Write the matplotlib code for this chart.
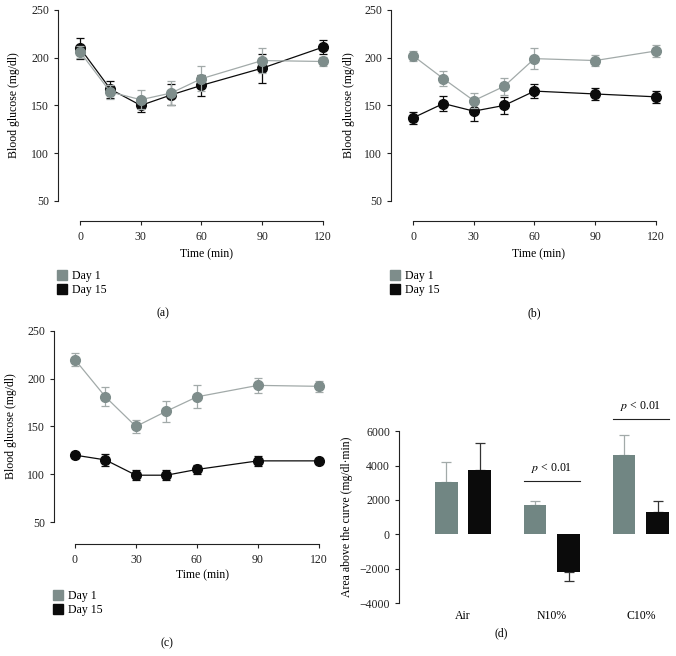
import numpy as np
import matplotlib.pyplot as plt
from matplotlib.lines import Line2D

plt.rcParams['font.family'] = ['Liberation Serif', 'DejaVu Serif']
plt.rcParams['mathtext.fontset'] = 'stix'
FS = 8.5
plt.rcParams['font.size'] = FS

# time points (min)
time = [0, 15, 30, 45, 60, 90, 120]

# (a) Air
a_day1 = [206, 164, 156, 163, 178, 197, 196]
a_day1_err = [6, 7, 10, 13, 13, 13, 5]
a_day15 = [210, 167, 150, 161, 171, 189, 211]
a_day15_err = [11, 9, 7, 11, 11, 15, 7]

# (b) N10%
b_day1 = [202, 178, 155, 170, 199, 197, 207]
b_day1_err = [5, 8, 8, 9, 11, 6, 6]
b_day15 = [137, 152, 144, 150, 165, 162, 159]
b_day15_err = [6, 8, 10, 9, 7, 6, 6]

# (c) C10%
c_day1 = [220, 181, 150, 166, 181, 193, 192]
c_day1_err = [7, 10, 7, 11, 12, 8, 6]
c_day15 = [120, 115, 99, 99, 105, 114, 114]
c_day15_err = [3, 6, 5, 5, 5, 5, 3]

# (d) area above the curve
groups = ['Air', 'N10%', 'C10%']
auc_day1 = [3050, 1680, 4600]
auc_day1_err = [1160, 270, 1200]
auc_day15 = [3770, -2220, 1330]
auc_day15_err = [1530, 520, 640]
sig_groups = [1, 2]
sig_line_y = [3110, 6740]
sig_text_y = [3850, 7490]

GRAY = '#7e8d8b'
GRAY_LINE = '#a2aaa9'
BLACK = '#0b0b0b'
BAR_GRAY = '#718683'

W, H = 676, 656
fig = plt.figure(figsize=(W / 100, H / 100), dpi=100)


def px_axes(left, top, right, bottom):
    return fig.add_axes([left / W, 1 - bottom / H, (right - left) / W, (bottom - top) / H])


def fx(px):
    return px / W


def fy(py):
    return 1 - py / H


def line_panel(box, xlim, ylim, d1, e1, d15, e15, ylab_x, xlab_y, leg_xy, cap, cap_xy):
    ax = px_axes(*box)
    ax.errorbar(time, d15, yerr=e15, color=BLACK, marker='o', ms=7, lw=0.9,
                elinewidth=0.9, capsize=2.8, capthick=0.9, zorder=3)
    ax.errorbar(time, d1, yerr=e1, color=GRAY_LINE, marker='o', ms=7, mfc=GRAY, mec=GRAY,
                lw=0.9, elinewidth=0.9, capsize=2.8, capthick=0.9, zorder=4)
    ax.set_xlim(*xlim)
    ax.set_ylim(*ylim)
    ax.set_xticks([0, 30, 60, 90, 120])
    ax.set_yticks([50, 100, 150, 200, 250])
    for s in ['top', 'right']:
        ax.spines[s].set_visible(False)
    ax.spines['left'].set_bounds(50, 250)
    ax.spines['bottom'].set_bounds(0, 120)
    for s in ['left', 'bottom']:
        ax.spines[s].set_linewidth(0.8)
        ax.spines[s].set_color('#222222')
    ax.tick_params(direction='out', length=3, width=0.8, colors='#222222', labelsize=FS)
    ax.tick_params(axis='x', pad=4)
    ax.set_ylabel('Blood glucose (mg/dl)', fontsize=FS)
    ax.yaxis.set_label_coords(fx(ylab_x), fy(105 + box[1] - 8), transform=fig.transFigure)
    ax.set_xlabel('Time (min)', fontsize=FS)
    ax.xaxis.set_label_coords(fx((box[0] + box[2]) / 2 + 12), fy(xlab_y), transform=fig.transFigure)
    handles = [Line2D([], [], marker='s', ls='none', color=GRAY, ms=6.5),
               Line2D([], [], marker='s', ls='none', color=BLACK, ms=6.5)]
    ax.legend(handles, ['Day 1', 'Day 15'], loc='upper left', bbox_to_anchor=(fx(leg_xy[0]), fy(leg_xy[1])),
              bbox_transform=fig.transFigure, frameon=False, handlelength=0.7, handletextpad=0.5,
              labelspacing=0.2, borderpad=0, borderaxespad=0, fontsize=FS)
    fig.text(fx(cap_xy[0]), fy(cap_xy[1]), cap, ha='center', va='center', fontsize=FS)
    return ax


line_panel((58, 8, 330, 221), (-10.9, 123.5), (29, 252), a_day1, a_day1_err, a_day15, a_day15_err,
           20, 248, (58, 270), '(a)', (163, 313))
line_panel((391, 8, 663, 221), (-10.9, 123.5), (29, 252), b_day1, b_day1_err, b_day15, b_day15_err,
           355, 248, (391, 270), '(b)', (534, 313))
line_panel((54, 329, 326, 544), (-10.3, 123.5), (27, 252), c_day1, c_day1_err, c_day15, c_day15_err,
           17, 569, (54, 590), '(c)', (167, 643))

# (d) bar chart
ax = px_axes(399, 397, 672, 603)
x = np.arange(len(groups))
width = 0.253
off = 0.188
ax.bar(x - off, auc_day1, width, color=BAR_GRAY, zorder=2)
ax.bar(x + off, auc_day15, width, color=BLACK, zorder=2)
e1 = [[e if v < 0 else 0 for v, e in zip(auc_day1, auc_day1_err)],
      [e if v >= 0 else 0 for v, e in zip(auc_day1, auc_day1_err)]]
e15 = [[e if v < 0 else 0 for v, e in zip(auc_day15, auc_day15_err)],
       [e if v >= 0 else 0 for v, e in zip(auc_day15, auc_day15_err)]]
ax.errorbar(x - off, auc_day1, yerr=e1, fmt='none', ecolor=GRAY_LINE, elinewidth=0.9, capsize=3.5, capthick=0.9, zorder=1)
ax.errorbar(x + off, auc_day15, yerr=e15, fmt='none', ecolor='#333333', elinewidth=0.9, capsize=3.5, capthick=0.9, zorder=1)
for g, ly, ty in zip(sig_groups, sig_line_y, sig_text_y):
    ax.plot([g - off - width / 2, g + off + width / 2], [ly, ly], color='#222222', lw=0.8)
    ax.text(g, ty, '$p$ < 0.01', ha='center', va='center', fontsize=FS)
ax.set_xlim(-0.72, 2.35)
ax.set_ylim(-4000, 8000)
ax.set_yticks([-4000, -2000, 0, 2000, 4000, 6000])
ax.set_xticks(x)
ax.set_xticklabels(groups)
for s in ['top', 'right', 'bottom']:
    ax.spines[s].set_visible(False)
ax.spines['left'].set_bounds(-4000, 6000)
ax.spines['left'].set_linewidth(0.8)
ax.spines['left'].set_color('#222222')
ax.tick_params(axis='y', direction='out', length=3, width=0.8, colors='#222222', labelsize=FS)
ax.tick_params(axis='x', length=0, pad=5, labelsize=FS)
ax.set_ylabel('Area above the curve (mg/dl·min)', fontsize=FS)
ax.yaxis.set_label_coords(fx(353), fy(517), transform=fig.transFigure)
fig.text(fx(501), fy(633), '(d)', ha='center', va='center', fontsize=FS)

fig.savefig('out.png', dpi=100)
